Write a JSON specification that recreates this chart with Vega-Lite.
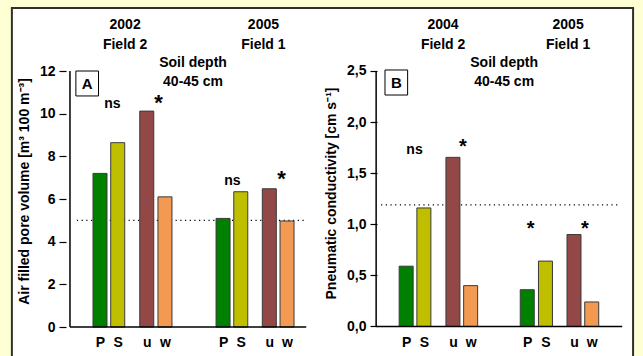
{
  "$schema": "https://vega.github.io/schema/vega-lite/v6.json",
  "autosize": {"type": "none"},
  "padding": 0,
  "width": 643,
  "height": 356,
  "background": "#FFFFD4",
  "config": {
    "view": {"stroke": null},
    "axis": {
      "labelFont": "Liberation Sans", "labelFontWeight": "bold", "labelFontSize": 14, "labelColor": "black",
      "titleFont": "Liberation Sans", "titleFontWeight": "bold", "titleFontSize": 14, "titleColor": "black",
      "tickColor": "black", "tickWidth": 1.2, "grid": false, "domain": false,
      "labelOverlap": false, "labelFlush": false
    },
    "text": {"font": "Liberation Sans", "fontWeight": "bold", "fontSize": 14, "color": "black"}
  },
  "datasets": {
    "bars": [
      {"panel": "A", "year": "2002", "treat": "P", "pos": 96.5, "value": 7.2},
      {"panel": "A", "year": "2002", "treat": "S", "pos": 114.5, "value": 8.64},
      {"panel": "A", "year": "2002", "treat": "u", "pos": 144, "value": 10.12},
      {"panel": "A", "year": "2002", "treat": "w", "pos": 162.5, "value": 6.1},
      {"panel": "A", "year": "2005", "treat": "P", "pos": 221.5, "value": 5.09},
      {"panel": "A", "year": "2005", "treat": "S", "pos": 239.5, "value": 6.34},
      {"panel": "A", "year": "2005", "treat": "u", "pos": 268.5, "value": 6.48},
      {"panel": "A", "year": "2005", "treat": "w", "pos": 286.5, "value": 4.97},
      {"panel": "B", "year": "2004", "treat": "P", "pos": 407.5, "value": 0.59},
      {"panel": "B", "year": "2004", "treat": "S", "pos": 425.5, "value": 1.16},
      {"panel": "B", "year": "2004", "treat": "u", "pos": 455, "value": 1.655},
      {"panel": "B", "year": "2004", "treat": "w", "pos": 473, "value": 0.4},
      {"panel": "B", "year": "2005", "treat": "P", "pos": 530.5, "value": 0.36},
      {"panel": "B", "year": "2005", "treat": "S", "pos": 549, "value": 0.64},
      {"panel": "B", "year": "2005", "treat": "u", "pos": 578, "value": 0.9},
      {"panel": "B", "year": "2005", "treat": "w", "pos": 596, "value": 0.24}
    ]
  },
  "layer": [
    {
      "layer": [
        {
          "data": {"values": [{}]},
          "mark": {"type": "rect", "fill": "white"},
          "encoding": {"x": {"datum": 7}, "x2": {"datum": 638}, "y": {"datum": 14.953125}, "y2": {"datum": -1.359375}}
        },
        {
          "data": {"values": [{}]},
          "mark": {"type": "rule", "color": "#303030", "strokeWidth": 2},
          "encoding": {"x": {"datum": 6}, "x2": {"datum": 639}, "y": {"datum": 14.953125}}
        },
        {
          "data": {"values": [{}]},
          "mark": {"type": "rule", "color": "#303030", "strokeWidth": 2},
          "encoding": {"x": {"datum": 7}, "y": {"datum": 14.953125}, "y2": {"datum": -1.359375}}
        },
        {
          "data": {"values": [{}]},
          "mark": {"type": "rule", "color": "#303030", "strokeWidth": 2},
          "encoding": {"x": {"datum": 638}, "y": {"datum": 14.953125}, "y2": {"datum": -1.359375}}
        },
        {
          "data": {"values": [{}]},
          "mark": {"type": "rule", "color": "black", "strokeWidth": 1.2, "strokeDash": [1.2, 3.5]},
          "encoding": {"x": {"datum": 73}, "x2": {"datum": 306}, "y": {"datum": 5}}
        },
        {
          "data": {"name": "bars"},
          "transform": [{"filter": "datum.panel == 'A'"}],
          "mark": {"type": "bar", "size": 14, "stroke": "#3a3a3a", "strokeWidth": 1},
          "encoding": {
            "x": {
              "field": "pos", "type": "quantitative",
              "scale": {"domain": [0, 643], "nice": false, "zero": false},
              "axis": {
                "orient": "bottom", "offset": -29, "zindex": 2,
                "values": [96.5, 114.5, 144, 162.5, 221.5, 239.5, 268.5, 286.5, 407.5, 425.5, 455, 473, 530.5, 549, 578, 596],
                "labelExpr": "['P','S','u','w'][indexof([96.5, 114.5, 144, 162.5, 221.5, 239.5, 268.5, 286.5, 407.5, 425.5, 455, 473, 530.5, 549, 578, 596], datum.value) % 4]",
                "ticks": false, "title": null, "labelPadding": 8
              }
            },
            "y": {
              "field": "value", "type": "quantitative",
              "scale": {"domain": [-1.359375, 15.328125], "nice": false, "zero": false},
              "axis": {
                "orient": "left", "offset": -66, "zindex": 2,
                "values": [0, 1, 2, 3, 4, 5, 6, 7, 8, 9, 10, 11, 12],
                "labelExpr": "datum.value % 2 == 0 ? datum.label : ''",
                "tickSize": 7, "labelPadding": 4,
                "title": "Air filled pore volume [m³ 100 m⁻³]", "titlePadding": 8, "titleY": 191
              }
            },
            "color": {
              "field": "treat", "type": "nominal",
              "scale": {"domain": ["P", "S", "u", "w"], "range": ["#008000", "#BFBF00", "#934848", "#F29A52"]},
              "legend": null
            }
          }
        },
        {
          "data": {"values": [{}]},
          "mark": {"type": "rule", "color": "black", "strokeWidth": 1.5},
          "encoding": {"x": {"datum": 66}, "y": {"datum": 0}, "y2": {"datum": 12}}
        },
        {
          "data": {"values": [{}]},
          "mark": {"type": "rule", "color": "black", "strokeWidth": 1.5},
          "encoding": {"x": {"datum": 66}, "x2": {"datum": 306}, "y": {"datum": 0}}
        },
        {
          "data": {"values": [{}]},
          "mark": {"type": "text", "text": ["2002", "Field 2"], "baseline": "top", "lineHeight": 20, "align": "center"},
          "encoding": {"x": {"datum": 122}, "y": {"datum": 14.484}}
        },
        {
          "data": {"values": [{}]},
          "mark": {"type": "text", "text": ["2005", "Field 1"], "baseline": "top", "lineHeight": 20, "align": "center"},
          "encoding": {"x": {"datum": 262.5}, "y": {"datum": 14.484}}
        },
        {
          "data": {"values": [{}]},
          "mark": {"type": "text", "text": ["Soil depth", "40-45 cm"], "baseline": "top", "lineHeight": 19, "align": "center"},
          "encoding": {"x": {"datum": 191}, "y": {"datum": 12.703}}
        },
        {
          "data": {"values": [{}]},
          "mark": {"type": "text", "text": "ns", "baseline": "middle", "align": "center"},
          "encoding": {"x": {"datum": 109}, "y": {"datum": 10.45}}
        },
        {
          "data": {"values": [{}]},
          "mark": {"type": "text", "text": "*", "baseline": "alphabetic", "align": "center", "fontSize": 22},
          "encoding": {"x": {"datum": 156}, "y": {"datum": 10.17}}
        },
        {
          "data": {"values": [{}]},
          "mark": {"type": "text", "text": "ns", "baseline": "middle", "align": "center"},
          "encoding": {"x": {"datum": 231}, "y": {"datum": 6.84}}
        },
        {
          "data": {"values": [{}]},
          "mark": {"type": "text", "text": "*", "baseline": "alphabetic", "align": "center", "fontSize": 22},
          "encoding": {"x": {"datum": 281}, "y": {"datum": 6.61}}
        },
        {
          "data": {"values": [{}]},
          "mark": {"type": "rect", "fill": "white", "stroke": "black", "strokeWidth": 1},
          "encoding": {"x": {"datum": 72}, "x2": {"datum": 95}, "y": {"datum": 12}, "y2": {"datum": 10.83}}
        },
        {
          "data": {"values": [{}]},
          "mark": {"type": "text", "text": "A", "baseline": "middle", "align": "center", "fontSize": 15},
          "encoding": {"x": {"datum": 83.5}, "y": {"datum": 11.39}}
        }
      ]
    },
    {
      "layer": [
        {
          "data": {"values": [{}]},
          "mark": {"type": "rule", "color": "black", "strokeWidth": 1.2, "strokeDash": [1.2, 3.5]},
          "encoding": {"x": {"datum": 382}, "x2": {"datum": 623}, "y": {"datum": 1.19}}
        },
        {
          "data": {"name": "bars"},
          "transform": [{"filter": "datum.panel == 'B'"}],
          "mark": {"type": "bar", "size": 14, "stroke": "#3a3a3a", "strokeWidth": 1},
          "encoding": {
            "x": {
              "field": "pos", "type": "quantitative",
              "scale": {"domain": [0, 643], "nice": false, "zero": false},
              "axis": {
                "orient": "bottom", "offset": -29, "zindex": 2,
                "values": [96.5, 114.5, 144, 162.5, 221.5, 239.5, 268.5, 286.5, 407.5, 425.5, 455, 473, 530.5, 549, 578, 596],
                "labelExpr": "['P','S','u','w'][indexof([96.5, 114.5, 144, 162.5, 221.5, 239.5, 268.5, 286.5, 407.5, 425.5, 455, 473, 530.5, 549, 578, 596], datum.value) % 4]",
                "ticks": false, "title": null, "labelPadding": 8
              }
            },
            "y": {
              "field": "value", "type": "quantitative",
              "scale": {"domain": [-0.28865, 3.194716], "nice": false, "zero": false},
              "axis": {
                "orient": "left", "offset": -377, "zindex": 2,
                "values": [0, 0.25, 0.5, 0.75, 1, 1.25, 1.5, 1.75, 2, 2.25, 2.5],
                "labelExpr": "(datum.value * 2) % 1 == 0 ? replace(format(datum.value, '.1f'), '.', ',') : ''",
                "tickSize": 7, "labelPadding": 4,
                "title": "Pneumatic conductivity [cm s⁻¹]", "titlePadding": 8, "titleY": 193
              }
            },
            "color": {
              "field": "treat", "type": "nominal",
              "scale": {"domain": ["P", "S", "u", "w"], "range": ["#008000", "#BFBF00", "#934848", "#F29A52"]},
              "legend": null
            }
          }
        },
        {
          "data": {"values": [{}]},
          "mark": {"type": "rule", "color": "black", "strokeWidth": 1.5},
          "encoding": {"x": {"datum": 377}, "y": {"datum": 0}, "y2": {"datum": 2.5}}
        },
        {
          "data": {"values": [{}]},
          "mark": {"type": "rule", "color": "black", "strokeWidth": 1.5},
          "encoding": {"x": {"datum": 377}, "x2": {"datum": 627}, "y": {"datum": 0}}
        },
        {
          "data": {"values": [{}]},
          "mark": {"type": "text", "text": ["2004", "Field 2"], "baseline": "top", "lineHeight": 20, "align": "center"},
          "encoding": {"x": {"datum": 445}, "y": {"datum": 3.0186}}
        },
        {
          "data": {"values": [{}]},
          "mark": {"type": "text", "text": ["2005", "Field 1"], "baseline": "top", "lineHeight": 20, "align": "center"},
          "encoding": {"x": {"datum": 572}, "y": {"datum": 3.0186}}
        },
        {
          "data": {"values": [{}]},
          "mark": {"type": "text", "text": ["Soil depth", "40-45 cm"], "baseline": "top", "lineHeight": 19, "align": "center"},
          "encoding": {"x": {"datum": 507}, "y": {"datum": 2.6468}}
        },
        {
          "data": {"values": [{}]},
          "mark": {"type": "text", "text": "ns", "baseline": "middle", "align": "center"},
          "encoding": {"x": {"datum": 416}, "y": {"datum": 1.727}}
        },
        {
          "data": {"values": [{}]},
          "mark": {"type": "text", "text": "*", "baseline": "alphabetic", "align": "center", "fontSize": 20},
          "encoding": {"x": {"datum": 465}, "y": {"datum": 1.6977}}
        },
        {
          "data": {"values": [{}]},
          "mark": {"type": "text", "text": "*", "baseline": "alphabetic", "align": "center", "fontSize": 20},
          "encoding": {"x": {"datum": 534}, "y": {"datum": 0.8953}}
        },
        {
          "data": {"values": [{}]},
          "mark": {"type": "text", "text": "*", "baseline": "alphabetic", "align": "center", "fontSize": 20},
          "encoding": {"x": {"datum": 589}, "y": {"datum": 0.8953}}
        },
        {
          "data": {"values": [{}]},
          "mark": {"type": "rect", "fill": "white", "stroke": "black", "strokeWidth": 1},
          "encoding": {"x": {"datum": 386}, "x2": {"datum": 409}, "y": {"datum": 2.5098}, "y2": {"datum": 2.265}}
        },
        {
          "data": {"values": [{}]},
          "mark": {"type": "text", "text": "B", "baseline": "middle", "align": "center", "fontSize": 15},
          "encoding": {"x": {"datum": 397.5}, "y": {"datum": 2.3826}}
        }
      ]
    }
  ],
  "resolve": {"scale": {"y": "independent"}, "axis": {"y": "independent"}}
}
